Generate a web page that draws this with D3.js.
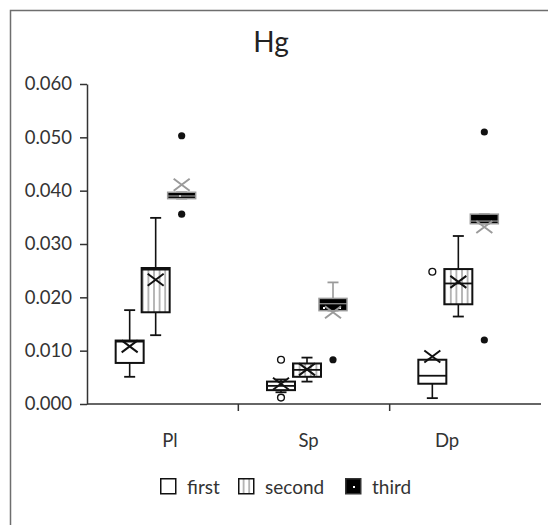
<!DOCTYPE html>
<html>
<head>
<meta charset="utf-8">
<title>Hg</title>
<script src="https://cdn.jsdelivr.net/npm/d3@7"></script>
<style>
  body { margin: 0; background: #fff; }
  svg { display: block; }
</style>
</head>
<body>
<div id="chart"></div>
<script>

// data, indexed [series][category]
const categories = ["Pl", "Sp", "Dp"];
const seriesNames = ["first", "second", "third"];
const lowWhisker  = [[0.0051, 0.0022, 0.0011], [0.0129, 0.0042, 0.0164], [0.0385, 0.0175, 0.0338]];
const q1          = [[0.0077, 0.0026, 0.0038], [0.0172, 0.0051, 0.0187], [0.0385, 0.0175, 0.0338]];
const median      = [[0.0117, 0.0034, 0.0053], [0.0252, 0.0064, 0.0226], [0.0390, 0.0188, 0.0343]];
const q3          = [[0.0119, 0.0042, 0.0083], [0.0255, 0.0076, 0.0253], [0.0397, 0.0198, 0.0356]];
const highWhisker = [[0.0176, 0.0046, 0.0083], [0.0349, 0.0087, 0.0315], [0.0397, 0.0228, 0.0356]];
const mean        = [[0.0108, 0.0038, 0.0089], [0.0233, 0.0065, 0.0229], [0.0411, 0.0172, 0.0332]];
// [series, category, value]
const outliers = [
  [0, 1, 0.0083], [0, 1, 0.0012], [0, 2, 0.0248],
  [2, 0, 0.0503], [2, 0, 0.0356], [2, 1, 0.0083], [2, 2, 0.0510], [2, 2, 0.0120]
];
const yTicks = [0, 0.01, 0.02, 0.03, 0.04, 0.05, 0.06];

const W = 548, H = 525;
const font = "Lato, 'Open Sans', sans-serif";

const svg = d3.select("#chart").append("svg")
    .attr("width", W).attr("height", H)
    .attr("font-family", font);

// chart frame
svg.append("rect")
    .attr("x", 10.5).attr("y", 10.5)
    .attr("width", 545).attr("height", 540)
    .attr("fill", "#fff").attr("stroke", "#6e6e6e").attr("stroke-width", 1.5);

const defs = svg.append("defs");
const stripes = defs.append("pattern").attr("id", "stripes")
    .attr("patternUnits", "userSpaceOnUse").attr("width", 5.6).attr("height", 10);
stripes.append("rect").attr("width", 5.6).attr("height", 10).attr("fill", "#fff");
stripes.append("line").attr("x1", 2.8).attr("x2", 2.8).attr("y1", 0).attr("y2", 10)
    .attr("stroke", "#8a8a8a").attr("stroke-width", 1.2);

const dots = defs.append("pattern").attr("id", "dots")
    .attr("patternUnits", "userSpaceOnUse").attr("width", 16).attr("height", 16);
dots.append("rect").attr("width", 16).attr("height", 16).attr("fill", "#000");
dots.append("rect").attr("x", 3).attr("y", 3).attr("width", 2).attr("height", 2).attr("fill", "#fff");

const fills = ["#fff", "url(#stripes)", "url(#dots)"];
const strokes = ["#111", "#111", "#9a9a9a"];

const x = d3.scaleBand().domain(categories).range([87, 541]);
const sub = d3.scaleBand().domain(seriesNames).range([-46, 32]);
const labelX = d3.scalePoint().domain(categories).range([170, 447]);
const y = d3.scaleLinear().domain([0, 0.06]).range([404, 84]);

const boxW = 28, capW = 11;

// y axis
const yAxis = svg.append("g")
    .attr("transform", "translate(87,0)")
    .call(d3.axisLeft(y).tickValues(yTicks).tickFormat(d3.format(".3f")).tickSize(7).tickSizeOuter(0));
yAxis.select(".domain").attr("stroke", "#333").attr("stroke-width", 1.5);
yAxis.selectAll(".tick line").attr("stroke", "#333").attr("stroke-width", 1.5);
yAxis.selectAll(".tick text").attr("font-size", 18.5).attr("font-family", font)
    .attr("fill", "#333").attr("x", -15);

// x axis
const xg = svg.append("g").attr("transform", "translate(0,404)");
xg.append("line").attr("x1", 87).attr("x2", 541).attr("stroke", "#333").attr("stroke-width", 1.5);
xg.selectAll(".xt").data(categories.slice(1)).join("line")
    .attr("x1", d => x(d)).attr("x2", d => x(d)).attr("y1", 0).attr("y2", 7)
    .attr("stroke", "#333").attr("stroke-width", 1.5);
xg.selectAll(".xl").data(categories).join("text")
    .attr("x", d => labelX(d)).attr("y", 43)
    .attr("text-anchor", "middle").attr("font-size", 18.5).attr("fill", "#333")
    .text(d => d);

// boxes
seriesNames.forEach((s, si) => {
  categories.forEach((c, ci) => {
    const cx = x(c) + x.bandwidth() / 2 + sub(s) + sub.bandwidth() / 2;
    const g = svg.append("g");
    const st = strokes[si];
    // whiskers
    g.append("line").attr("x1", cx).attr("x2", cx)
        .attr("y1", y(highWhisker[si][ci])).attr("y2", y(q3[si][ci]))
        .attr("stroke", st).attr("stroke-width", 1.6);
    g.append("line").attr("x1", cx).attr("x2", cx)
        .attr("y1", y(lowWhisker[si][ci])).attr("y2", y(q1[si][ci]))
        .attr("stroke", st).attr("stroke-width", 1.6);
    [highWhisker[si][ci], lowWhisker[si][ci]].forEach(v => {
      g.append("line").attr("x1", cx - capW / 2).attr("x2", cx + capW / 2)
          .attr("y1", y(v)).attr("y2", y(v))
          .attr("stroke", st).attr("stroke-width", 1.8);
    });
    // box
    g.append("rect")
        .attr("x", cx - boxW / 2).attr("width", boxW)
        .attr("y", y(q3[si][ci])).attr("height", y(q1[si][ci]) - y(q3[si][ci]))
        .attr("fill", fills[si]).attr("stroke", st).attr("stroke-width", si === 2 ? 1.5 : 2);
    g.append("line").attr("x1", cx - boxW / 2).attr("x2", cx + boxW / 2)
        .attr("y1", y(median[si][ci])).attr("y2", y(median[si][ci]))
        .attr("stroke", st).attr("stroke-width", si === 2 ? 1.2 : 1.8);
    // mean marker
    const my = y(mean[si][ci]);
    g.append("path")
        .attr("d", `M${cx - 8},${my - 6}L${cx + 8},${my + 6}M${cx - 8},${my + 6}L${cx + 8},${my - 6}`)
        .attr("stroke", st).attr("stroke-width", 2).attr("fill", "none");
  });
});

// outliers
svg.selectAll(".out").data(outliers).join("circle")
    .attr("cx", d => x(categories[d[1]]) + x.bandwidth() / 2 + sub(seriesNames[d[0]]) + sub.bandwidth() / 2)
    .attr("cy", d => y(d[2]))
    .attr("r", d => d[0] === 2 ? 3.6 : 3.4)
    .attr("fill", d => d[0] === 2 ? "#111" : "#fff")
    .attr("stroke", "#111").attr("stroke-width", d => d[0] === 2 ? 0 : 1.4);

// title
svg.append("text").attr("x", 271).attr("y", 52)
    .attr("text-anchor", "middle").attr("font-size", 28).attr("fill", "#222")
    .text("Hg");

// legend
const legendX = [160, 238, 345];
const leg = svg.append("g");
seriesNames.forEach((s, i) => {
  leg.append("rect").attr("x", legendX[i] + 0.75).attr("y", 478.75)
      .attr("width", 15).attr("height", 15)
      .attr("fill", i === 2 ? "#000" : fills[i])
      .attr("stroke", i === 2 ? "#333" : "#111").attr("stroke-width", 1.5);
  if (i === 2) {
    leg.append("rect").attr("x", legendX[i] + 8).attr("y", 486).attr("width", 2).attr("height", 2).attr("fill", "#fff");
  }
  leg.append("text").attr("x", legendX[i] + 27).attr("y", 494)
      .attr("font-size", 19).attr("fill", "#333").text(s);
});

</script>
</body>
</html>
